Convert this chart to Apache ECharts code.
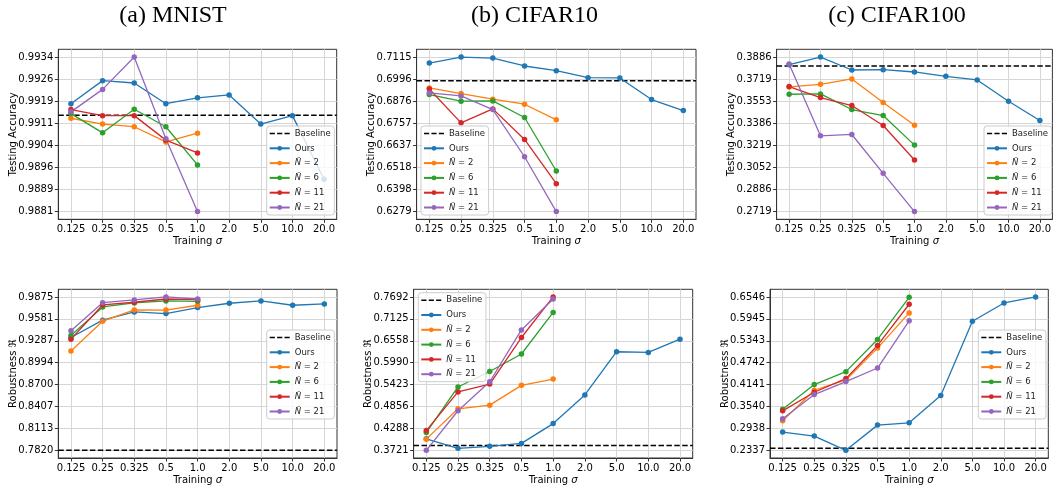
<!DOCTYPE html>
<html><head><meta charset="utf-8">
<script src="https://cdn.jsdelivr.net/npm/echarts@6/dist/echarts.min.js"></script>
<style>html,body{margin:0;padding:0;background:#fff}#c{width:1054px;height:486px}</style>
</head><body><div id="c"></div>
<script>
// ---- categories ----
const sigmaLabels = ['0.125','0.25','0.325','0.5','1.0','2.0','5.0','10.0','20.0'];
const seriesNames = ['Ours','Ñ = 2','Ñ = 6','Ñ = 11','Ñ = 21'];
const colors = ['#1f77b4','#ff7f0e','#2ca02c','#d62728','#9467bd'];

// ---- (a) MNIST, testing accuracy ----
const mnistAccBaseline = 0.9914;
const mnistAccOurs = [0.9918, 0.99259, 0.99251, 0.9918, 0.9920, 0.9921, 0.9911, 0.99139, 0.98921];
const mnistAccN2  = [0.9913, 0.9911, 0.99101, 0.99049, 0.99079];
const mnistAccN6  = [0.99146, 0.9908, 0.99161, 0.99101, 0.9897];
const mnistAccN11 = [0.9916, 0.99139, 0.99139, 0.99055, 0.99011];
const mnistAccN21 = [0.99152, 0.99229, 0.9934, 0.9906, 0.9881];
const mnistAccTicks = ['0.9881','0.9889','0.9896','0.9904','0.9911','0.9919','0.9926','0.9934'];

// ---- (b) CIFAR10, testing accuracy ----
const cifar10AccBaseline = 0.6986;
const cifar10AccOurs = [0.70826, 0.7115, 0.71096, 0.70665, 0.70413, 0.70035, 0.70017, 0.68849, 0.68255];
const cifar10AccN2  = [0.69478, 0.69172, 0.68867, 0.68597, 0.67752];
const cifar10AccN6  = [0.69118, 0.6876, 0.68777, 0.67878, 0.64983];
const cifar10AccN11 = [0.69424, 0.6759, 0.68345, 0.66691, 0.6430];
const cifar10AccN21 = [0.69208, 0.69047, 0.68309, 0.65756, 0.6279];
const cifar10AccTicks = ['0.6279','0.6398','0.6518','0.6637','0.6757','0.6876','0.6996','0.7115'];

// ---- (c) CIFAR100, testing accuracy ----
const cifar100AccBaseline = 0.38182;
const cifar100AccOurs = [0.38283, 0.3886, 0.37881, 0.37906, 0.37731, 0.37404, 0.37128, 0.35522, 0.34067];
const cifar100AccN2  = [0.36601, 0.36802, 0.37204, 0.35422, 0.33715];
const cifar100AccN6  = [0.36049, 0.36074, 0.34895, 0.34443, 0.32209];
const cifar100AccN11 = [0.36626, 0.35798, 0.35196, 0.3369, 0.3108];
const cifar100AccN21 = [0.38333, 0.32912, 0.33012, 0.30076, 0.2719];
const cifar100AccTicks = ['0.2719','0.2886','0.3052','0.3219','0.3386','0.3553','0.3719','0.3886'];

// ---- (a) MNIST, robustness ----
const mnistRobBaseline = 0.7820;
const mnistRobOurs = [0.9332, 0.9564, 0.9675, 0.9653, 0.9733, 0.9791, 0.9822, 0.9764, 0.9782];
const mnistRobN2  = [0.9150, 0.9550, 0.9702, 0.9700, 0.9764];
const mnistRobN6  = [0.9359, 0.9742, 0.9795, 0.9822, 0.9817];
const mnistRobN11 = [0.9310, 0.9768, 0.9804, 0.9848, 0.9839];
const mnistRobN21 = [0.9421, 0.9799, 0.9835, 0.9875, 0.9848];
const mnistRobTicks = ['0.7820','0.8113','0.8407','0.8700','0.8994','0.9287','0.9581','0.9875'];

// ---- (b) CIFAR10, robustness ----
const cifar10RobBaseline = 0.3849;
const cifar10RobOurs = [0.4020, 0.3772, 0.3824, 0.3900, 0.4413, 0.5156, 0.6274, 0.6257, 0.6599];
const cifar10RobN2  = [0.4011, 0.4797, 0.4891, 0.5403, 0.5566];
const cifar10RobN6  = [0.4182, 0.5361, 0.5762, 0.6215, 0.7291];
const cifar10RobN11 = [0.4233, 0.5233, 0.5438, 0.6642, 0.7692];
const cifar10RobN21 = [0.3721, 0.4746, 0.5497, 0.6838, 0.7641];
const cifar10RobTicks = ['0.3721','0.4288','0.4856','0.5423','0.5990','0.6558','0.7125','0.7692'];

// ---- (c) CIFAR100, robustness ----
const cifar100RobBaseline = 0.2392;
const cifar100RobOurs = [0.2838, 0.2729, 0.2337, 0.3029, 0.3093, 0.3840, 0.5881, 0.6382, 0.6546];
const cifar100RobN2  = [0.3148, 0.3986, 0.4268, 0.5143, 0.6109];
const cifar100RobN6  = [0.3467, 0.4141, 0.4496, 0.5380, 0.6537];
const cifar100RobN11 = [0.3421, 0.3931, 0.4305, 0.5216, 0.6346];
const cifar100RobN21 = [0.3203, 0.3868, 0.4223, 0.4596, 0.5890];
const cifar100RobTicks = ['0.2337','0.2938','0.3540','0.4141','0.4742','0.5343','0.5945','0.6546'];

const titles = [
  {text: '(a) MNIST', x: 173},
  {text: '(b) CIFAR10', x: 534.5},
  {text: '(c) CIFAR100', x: 897}
];

const panels = [
  {ylabel: 'Testing Accuracy', base: mnistAccBaseline, lines: [mnistAccOurs, mnistAccN2, mnistAccN6, mnistAccN11, mnistAccN21], ticks: mnistAccTicks,
   grid: {left: 58.3, top: 49.3, width: 278.4, height: 170}, legend: {left: 266.7, top: 126}},
  {ylabel: 'Testing Accuracy', base: cifar10AccBaseline, lines: [cifar10AccOurs, cifar10AccN2, cifar10AccN6, cifar10AccN11, cifar10AccN21], ticks: cifar10AccTicks,
   grid: {left: 416.6, top: 49.3, width: 279.4, height: 170}, legend: {left: 421, top: 126}},
  {ylabel: 'Testing Accuracy', base: cifar100AccBaseline, lines: [cifar100AccOurs, cifar100AccN2, cifar100AccN6, cifar100AccN11, cifar100AccN21], ticks: cifar100AccTicks,
   grid: {left: 776.6, top: 49.3, width: 278.8, height: 170}, legend: {left: 984, top: 126}},
  {ylabel: 'Robustness ℜ', base: mnistRobBaseline, lines: [mnistRobOurs, mnistRobN2, mnistRobN6, mnistRobN11, mnistRobN21], ticks: mnistRobTicks,
   grid: {left: 58.3, top: 289.3, width: 278.7, height: 170}, legend: {left: 266.7, top: 330}},
  {ylabel: 'Robustness ℜ', base: cifar10RobBaseline, lines: [cifar10RobOurs, cifar10RobN2, cifar10RobN6, cifar10RobN11, cifar10RobN21], ticks: cifar10RobTicks,
   grid: {left: 413.6, top: 289.3, width: 279.1, height: 170}, legend: {left: 418.3, top: 292.7}},
  {ylabel: 'Robustness ℜ', base: cifar100RobBaseline, lines: [cifar100RobOurs, cifar100RobN2, cifar100RobN6, cifar100RobN11, cifar100RobN21], ticks: cifar100RobTicks,
   grid: {left: 770, top: 289.3, width: 278.3, height: 170}, legend: {left: 978.3, top: 330}}
];

const FONT = 'DejaVu Sans';
const DASH = [5.5, 2.4];
const spine = '#333';
const gridColor = '#d6d6d6';
const xIdx = sigmaLabels.map((_, k) => k);
const dashIcon = 'path://M0,0H5.5V1.5H0Z M7.9,0H13.4V1.5H7.9Z M15.8,0H21.3V1.5H15.8Z';

const option = {
  animation: false,
  backgroundColor: '#fff',
  grid: [], xAxis: [], yAxis: [], series: [], legend: [],
  graphic: titles.map(t => ({
    type: 'text', x: t.x, y: 16, silent: true,
    style: {text: t.text, fontSize: 24, fontFamily: 'Liberation Serif', fill: '#000',
            align: 'center', verticalAlign: 'middle', textAlign: 'center', textVerticalAlign: 'middle'}
  }))
};

panels.forEach((p, i) => {
  const n = p.ticks.length;
  const t0 = parseFloat(p.ticks[0]), t1 = parseFloat(p.ticks[n - 1]);
  const tickPos = p.ticks.map((_, k) => t0 + k * (t1 - t0) / (n - 1));
  const pad = 0.05 * (t1 - t0);
  const xPad = 0.05 * (sigmaLabels.length - 1);
  const xMin = -xPad, xMax = sigmaLabels.length - 1 + xPad;

  option.grid.push(Object.assign({show: true, borderColor: spine, borderWidth: 1, backgroundColor: 'transparent'}, p.grid));

  option.xAxis.push({
    type: 'value', gridIndex: i, min: xMin, max: xMax,
    axisLine: {show: true, onZero: false, lineStyle: {color: spine, width: 1}},
    axisTick: {show: true, length: 3.5, customValues: xIdx, lineStyle: {color: spine}},
    axisLabel: {customValues: xIdx, formatter: v => sigmaLabels[Math.round(v)], fontSize: 10, fontFamily: FONT, color: '#000', margin: 5},
    splitLine: {show: true, lineStyle: {color: gridColor, width: 1}},
    name: 'Training {i|σ}', nameLocation: 'middle', nameGap: 17, nameMoveOverlap: false,
    nameTextStyle: {fontSize: 10, fontFamily: FONT, color: '#000',
      rich: {i: {fontStyle: 'italic', fontSize: 10, fontFamily: FONT, color: '#000'}}}
  });

  option.yAxis.push({
    type: 'value', gridIndex: i, min: t0 - pad, max: t1 + pad,
    axisLine: {show: true, onZero: false, lineStyle: {color: spine, width: 1}},
    axisTick: {show: true, length: 3.5, customValues: tickPos, lineStyle: {color: spine}},
    axisLabel: {customValues: tickPos, fontSize: 10, fontFamily: FONT, color: '#000', margin: 5,
      formatter: v => {
        let best = 0;
        tickPos.forEach((tp, k) => { if (Math.abs(tp - v) < Math.abs(tickPos[best] - v)) best = k; });
        return p.ticks[best];
      }},
    splitLine: {show: true, lineStyle: {color: gridColor, width: 1}},
    name: p.ylabel, nameLocation: 'middle', nameGap: 40, nameMoveOverlap: false,
    nameTextStyle: {fontSize: 10, fontFamily: FONT, color: '#000'}
  });

  // baseline: horizontal line across the whole axis range
  option.series.push({
    type: 'line', name: 'Baseline', xAxisIndex: i, yAxisIndex: i,
    data: [[xMin, p.base], [xMax, p.base]],
    symbol: 'none', z: 2, silent: true,
    lineStyle: {type: DASH, color: '#000', width: 1.5}, itemStyle: {color: '#000'}
  });

  p.lines.forEach((vals, s) => {
    option.series.push({
      type: 'line', name: seriesNames[s], xAxisIndex: i, yAxisIndex: i,
      data: vals.map((v, k) => [xIdx[k], v]),
      symbol: 'circle', symbolSize: 5.5, showAllSymbol: true, z: 3,
      lineStyle: {color: colors[s], width: 1.3},
      itemStyle: {color: colors[s]}
    });
  });

  option.legend.push({
    orient: 'vertical', left: p.legend.left, top: p.legend.top,
    data: [{name: 'Baseline', icon: dashIcon, itemStyle: {color: '#000'}}].concat(seriesNames), selectedMode: false,
    itemWidth: 20, itemHeight: 6, itemGap: 4.6, align: 'left',
    padding: [2.4, 3.6, 2.4, 2],
    backgroundColor: 'rgba(255,255,255,0.8)', borderColor: '#cccccc', borderWidth: 1, borderRadius: 3,
    formatter: name => name.replace('Ñ', '{i|Ñ}'),
    textStyle: {fontSize: 8.5, fontFamily: FONT, color: '#222', lineHeight: 10.2,
      rich: {i: {fontStyle: 'italic', fontSize: 8.5, fontFamily: FONT, color: '#222', lineHeight: 10.2}}}
  });
});

const chart = echarts.init(document.getElementById('c'), null, {renderer: 'canvas'});
chart.setOption(option);
</script>
</body></html>
